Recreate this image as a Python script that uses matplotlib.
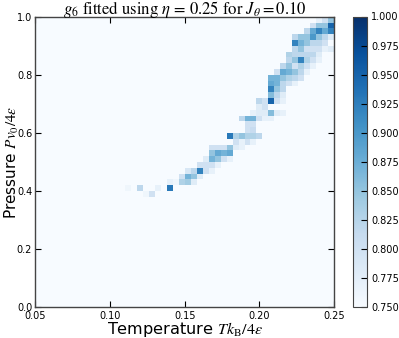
import numpy as np
import matplotlib
matplotlib.use("Agg")
import matplotlib.pyplot as plt

plt.rcParams['mathtext.fontset'] = 'stix'

# Grid definition (cell edges)
T_min, T_max, n_T = 0.05, 0.25, 50
P_min, P_max, n_P = 0.0, 1.0, 50

# Non-background cells: column index (temperature), row index (pressure), g6 value
cell_i = [18, 19,
          15, 17, 20, 22,
          22, 23, 24, 25, 26,
          24, 25, 26, 27,
          25, 26, 27, 28, 29,
          27, 28, 29, 30,
          28, 29, 30, 31, 32,
          29, 30, 31, 32,
          29, 30, 31, 32, 33, 34,
          33, 34, 35, 36,
          32, 33, 34, 35, 36, 37,
          35, 36,
          35, 36,
          34, 35, 36, 37, 38, 39,
          36, 37, 38, 39, 40, 41,
          37, 38,
          37, 38, 39, 40, 41,
          39, 40, 41,
          39, 40, 41,
          39, 40, 41, 42, 43,
          39, 40, 41, 42, 43, 44,
          40, 41, 42, 43, 44, 45,
          41, 42, 43, 44, 45, 46,
          42, 43, 44, 45, 46, 47,
          42, 43, 44, 45, 46, 47,
          43, 44, 45, 46, 47, 48, 49,
          43, 44, 45, 46, 47, 48,
          43, 44, 45, 46, 47, 48, 49,
          45, 46, 47, 48, 49,
          46, 47, 48, 49,
          47, 48, 49]
cell_j = [19, 19,
          20, 20, 20, 20,
          21, 21, 21, 21, 21,
          22, 22, 22, 22,
          23, 23, 23, 23, 23,
          24, 24, 24, 24,
          25, 25, 25, 25, 25,
          26, 26, 26, 26,
          27, 27, 27, 27, 27, 27,
          28, 28, 28, 28,
          29, 29, 29, 29, 29, 29,
          30, 30,
          31, 31,
          32, 32, 32, 32, 32, 32,
          33, 33, 33, 33, 33, 33,
          34, 34,
          35, 35, 35, 35, 35,
          36, 36, 36,
          37, 37, 37,
          38, 38, 38, 38, 38,
          39, 39, 39, 39, 39, 39,
          40, 40, 40, 40, 40, 40,
          41, 41, 41, 41, 41, 41,
          42, 42, 42, 42, 42, 42,
          43, 43, 43, 43, 43, 43,
          44, 44, 44, 44, 44, 44, 44,
          45, 45, 45, 45, 45, 45,
          46, 46, 46, 46, 46, 46, 46,
          47, 47, 47, 47, 47,
          48, 48, 48, 48,
          49, 49, 49]
cell_g6 = [0.76, 0.80,
           0.76, 0.82, 0.77, 0.93,
           0.77, 0.76, 0.83, 0.84, 0.78,
           0.80, 0.87, 0.85, 0.78,
           0.79, 0.82, 0.92, 0.80, 0.77,
           0.80, 0.80, 0.80, 0.77,
           0.78, 0.87, 0.85, 0.80, 0.77,
           0.85, 0.88, 0.87, 0.88,
           0.80, 0.80, 0.80, 0.85, 0.78, 0.77,
           0.80, 0.77, 0.80, 0.77,
           0.93, 0.83, 0.85, 0.83, 0.83, 0.82,
           0.80, 0.81,
           0.80, 0.80,
           0.82, 0.87, 0.87, 0.80, 0.77, 0.77,
           0.77, 0.78, 0.78, 0.86, 0.78, 0.77,
           0.78, 0.80,
           0.82, 0.80, 0.95, 0.80, 0.77,
           0.86, 0.82, 0.78,
           0.92, 0.85, 0.82,
           0.88, 0.87, 0.82, 0.80, 0.77,
           0.87, 0.87, 0.85, 0.83, 0.82, 0.80,
           0.80, 0.88, 0.87, 0.85, 0.82, 0.77,
           0.82, 0.85, 0.80, 0.83, 0.80, 0.77,
           0.82, 0.85, 0.92, 0.83, 0.80, 0.77,
           0.83, 0.82, 0.82, 0.82, 0.82, 0.78,
           0.82, 0.85, 0.80, 0.80, 0.80, 0.77, 0.78,
           0.92, 0.87, 0.85, 0.82, 0.82, 0.80,
           0.82, 0.85, 0.85, 0.90, 0.85, 0.82, 0.78,
           0.82, 0.88, 0.92, 0.88, 0.92,
           0.80, 0.85, 0.85, 0.95,
           0.77, 0.80, 0.85]

vmin, vmax = 0.75, 1.0
cb_ticks = [0.750, 0.775, 0.800, 0.825, 0.850, 0.875, 0.900, 0.925, 0.950, 0.975, 1.000]
x_ticks = [0.05, 0.10, 0.15, 0.20, 0.25]
y_ticks = [0.0, 0.2, 0.4, 0.6, 0.8, 1.0]

T_edges = np.linspace(T_min, T_max, n_T + 1)
P_edges = np.linspace(P_min, P_max, n_P + 1)
grid = np.full((n_P, n_T), vmin)
for i, j, v in zip(cell_i, cell_j, cell_g6):
    grid[j, i] = v

fig = plt.figure(figsize=(3.99, 3.38), dpi=100)
ax = fig.add_axes([35 / 399, 1 - 307.3 / 338, 299.3 / 399, 290.6 / 338])
mesh = ax.pcolormesh(T_edges, P_edges, grid, cmap='Blues', vmin=vmin, vmax=vmax)
ax.set_xlim(T_min, T_max)
ax.set_ylim(P_min, P_max)
ax.set_xticks(x_ticks)
ax.set_yticks(y_ticks)
ax.set_xticklabels(['%.2f' % t for t in x_ticks], fontsize=7)
ax.set_yticklabels(['%.1f' % t for t in y_ticks], fontsize=7)
ax.tick_params(direction='in', top=True, right=True, length=4, width=0.8, pad=2.5)
ax.tick_params(axis='y', pad=2)
for s in ax.spines.values():
    s.set_color('#444444')
    s.set_linewidth(1.0)

ax.set_xlabel(r'Temperature $Tk_\mathrm{B}/4\varepsilon$', fontsize=11.6, labelpad=-0.8)
ax.set_ylabel(r'Pressure $Pv_0/4\varepsilon$', fontsize=11)
ax.yaxis.set_label_coords(-14 / 299.3, 0.5)
ax.set_title(r'$g_6$ fitted using $\eta$ = 0.25 for $J_\theta = 0.10$',
             fontsize=12, family='STIXGeneral', pad=2)

cax = fig.add_axes([352.7 / 399, 1 - 307 / 338, 14.3 / 399, 290.5 / 338])
cb = fig.colorbar(mesh, cax=cax, ticks=cb_ticks)
cb.ax.set_yticklabels(['%.3f' % t for t in cb_ticks], fontsize=7)
cb.ax.tick_params(direction='in', length=4, width=0.8, pad=3)
cb.outline.set_edgecolor('#444444')

fig.savefig('out.png', dpi=100)
